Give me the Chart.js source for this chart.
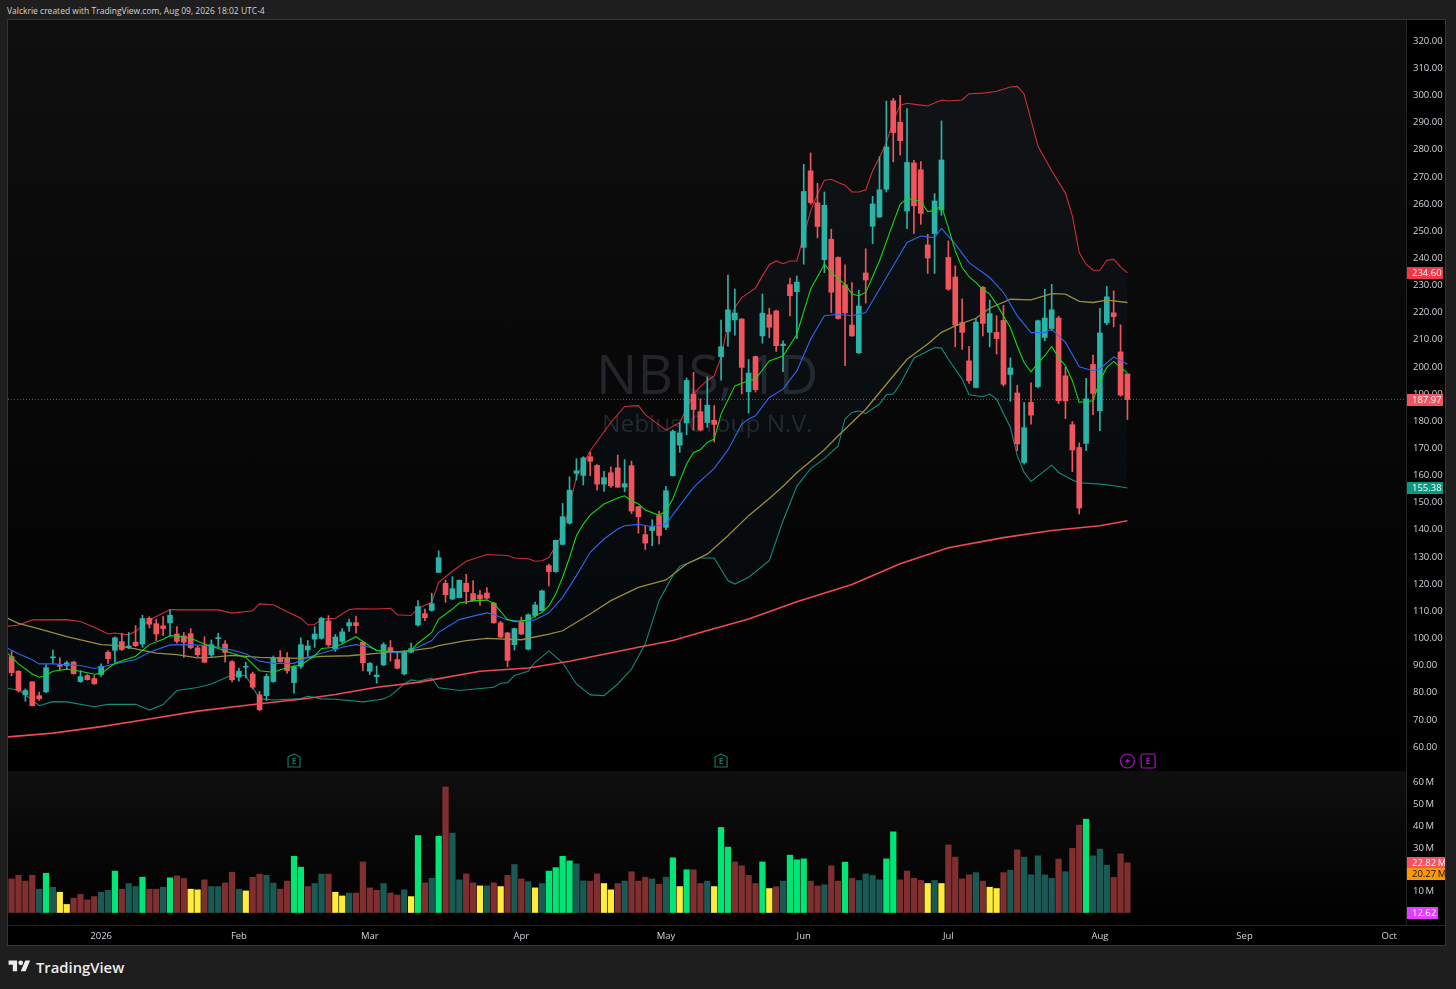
<!DOCTYPE html>
<html><head><meta charset="utf-8">
<script src="https://cdn.jsdelivr.net/npm/chart.js@4"></script>
<style>
html,body{margin:0;padding:0;background:#1e1e1e;width:1456px;height:989px;overflow:hidden;font-family:"Open Sans",sans-serif}
#head{position:absolute;left:7px;top:4px;font-size:8.5px;line-height:14px;color:#d4d4d4;white-space:nowrap}
#frame{position:absolute;left:7px;top:19px;width:1437px;height:925px;border:1px solid #363636;background:#000}
#pMain{position:absolute;left:8px;top:20px;width:1398px;height:751px;background:linear-gradient(#0f0f0f,#000)}
#pVol{position:absolute;left:8px;top:771px;width:1398px;height:154px;background:linear-gradient(#0f0f0f,#000)}
canvas{position:absolute;display:block}
#logo{position:absolute;left:8px;top:958px;display:flex;align-items:center;color:#ececec;font-size:14.8px;font-weight:600;line-height:16px}
#logo svg{width:23px;height:17px;margin-right:5px}
</style></head><body>
<div id="head">Valckrie created with TradingView.com, Aug 09, 2026 18:02 UTC-4</div>
<div id="frame"></div><div id="pMain"></div><div id="pVol"></div>
<canvas id="c1" width="1437" height="751" style="left:8px;top:20px;width:1437px;height:751px"></canvas>
<canvas id="c2" width="1437" height="174" style="left:8px;top:771px;width:1437px;height:174px"></canvas>
<div id="logo"><svg viewBox="0 0 36 28"><path fill="#ececec" d="M14 22H7V11H0V4h14v18zM28 22h-8l7.5-18h8L28 22z"/><circle fill="#ececec" cx="20" cy="8" r="4"/></svg><span>TradingView</span></div>
<script>
const opens=[93.3,87.9,79.2,84.0,78.9,80.3,92.8,90.1,90.0,91.3,
84.1,86.3,85.2,86.7,94.9,95.6,98.8,96.5,98.6,97.9,
107.4,105.4,104.6,105.7,101.6,100.9,101.7,96.5,97.5,93.9,
99.9,97.9,91.4,85.7,89.4,86.9,79.2,78.9,84.1,93.0,
92.8,83.7,89.7,95.7,99.7,100.0,106.4,96.0,98.9,104.6,
105.8,98.6,87.9,85.9,90.2,96.6,92.2,86.9,94.9,104.9,
109.1,110.3,124.3,120.3,114.5,115.0,120.3,116.5,116.0,116.7,
113.0,105.7,102.0,97.7,105.9,96.0,108.4,110.2,126.8,124.6,
134.6,142.4,160.8,160.0,166.9,163.7,156.8,161.0,162.8,155.7,
163.6,148.5,138.2,139.7,145.2,140.9,159.9,171.2,179.3,190.0,
183.5,179.5,180.3,203.7,213.0,217.3,217.6,190.8,203.8,211.4,
219.2,220.6,207.8,230.3,227.7,244.0,272.2,260.4,239.5,247.0,
240.3,230.2,215.4,205.2,234.6,251.8,255.2,265.4,298.0,290.1,
257.4,275.1,272.6,244.9,249.1,257.8,240.3,233.1,216.3,202.2,
192.4,229.3,212.7,212.7,217.1,197.2,190.4,164.8,186.9,192.7,
210.8,214.1,218.0,196.7,178.7,170.3,171.8,200.9,183.8,216.2,
219.9,205.5,197.4];
const highs=[95.2,88.1,81.4,84.0,80.2,90.3,95.7,92.8,91.6,91.6,
88.1,86.7,86.3,90.6,95.5,100.6,101.9,102.2,104.7,108.5,
108.0,107.1,108.0,110.5,104.3,102.2,103.6,97.2,100.6,99.4,
101.9,99.2,91.8,89.1,91.2,87.6,80.5,86.9,93.5,95.5,
94.8,90.0,100.2,99.2,104.3,107.8,108.4,101.4,103.6,107.1,
108.2,98.8,91.1,89.8,98.4,99.2,94.9,95.5,98.3,113.9,
110.8,116.6,132.2,121.5,122.7,121.5,123.6,121.3,117.6,118.7,
113.3,106.3,102.2,103.8,107.8,109.0,113.4,117.8,127.4,136.2,
149.7,159.5,166.2,166.9,168.5,164.0,161.5,163.2,167.5,165.8,
165.3,148.6,141.4,143.7,146.8,156.0,176.7,179.5,195.9,198.0,
188.2,196.3,185.7,217.2,233.8,228.6,217.8,202.7,204.0,226.8,
221.6,220.9,209.6,232.7,233.5,274.6,278.8,267.6,264.4,250.7,
240.5,237.6,231.0,228.2,243.5,262.8,277.4,297.9,298.9,300.0,
295.1,276.1,275.6,248.8,263.8,290.6,246.4,237.2,225.1,207.6,
217.9,229.6,224.6,218.8,222.6,203.3,193.2,186.8,194.1,217.2,
228.6,230.4,218.7,199.8,179.9,172.0,195.8,204.3,221.6,229.6,
228.0,215.5,197.4];
const lows=[86.2,80.2,76.8,75.1,77.1,80.0,90.8,88.4,88.7,86.8,
83.8,84.6,83.0,86.0,90.8,91.1,95.5,96.2,97.0,96.7,
103.8,99.2,101.0,101.0,98.2,93.0,96.2,93.3,91.1,93.3,
96.5,91.2,84.0,84.2,85.4,81.4,73.4,77.1,83.8,91.2,
87.1,79.8,88.9,93.3,96.7,99.7,97.0,95.2,98.4,102.6,
101.9,88.1,86.7,83.5,90.0,91.6,88.7,86.5,94.6,104.5,
106.5,110.0,124.2,113.3,114.3,114.9,112.7,113.7,112.2,114.4,
105.6,100.3,89.6,95.7,101.4,95.7,107.8,110.0,119.3,124.3,
134.5,142.1,158.3,156.5,159.9,154.6,154.1,155.6,155.6,154.0,
146.0,138.7,132.7,134.1,134.8,140.0,159.8,168.5,175.0,176.7,
176.5,177.7,172.4,195.1,207.6,211.7,190.0,183.0,190.7,208.7,
210.8,205.7,198.2,218.8,210.4,237.8,259.9,247.5,234.7,220.0,
217.6,200.4,211.2,204.9,223.5,245.4,255.0,264.4,275.5,278.0,
250.9,249.1,252.5,234.4,234.4,255.8,228.2,207.4,206.4,193.9,
192.2,211.4,207.4,204.7,192.9,187.3,169.1,164.2,178.9,192.2,
209.6,213.3,186.5,180.9,161.4,145.8,169.1,182.4,176.5,215.5,
214.7,189.2,180.6];
const closes=[87.4,80.8,80.8,75.2,77.8,89.2,93.2,89.7,91.0,87.0,
85.9,84.8,83.3,89.7,92.5,100.2,95.9,97.2,97.3,107.3,
105.2,101.6,103.6,108.5,98.9,98.6,96.6,94.0,91.2,97.7,
100.3,94.8,84.8,87.9,89.7,82.0,73.7,86.0,92.8,91.4,
88.1,89.6,97.7,97.2,101.6,107.4,97.6,100.5,102.4,105.8,
104.7,91.0,90.8,86.5,97.7,95.0,89.0,94.9,96.2,111.7,
107.6,112.8,129.7,116.1,118.3,121.4,117.2,113.9,114.5,114.8,
105.7,100.5,91.9,103.6,101.6,108.7,112.3,117.5,124.6,136.1,
144.8,154.6,161.7,166.5,165.2,156.8,159.2,156.2,155.7,157.0,
146.9,144.8,135.1,141.3,137.9,154.4,176.2,175.7,195.0,184.3,
176.8,185.9,178.8,207.4,221.0,219.8,199.8,197.7,191.6,219.8,
214.6,207.8,208.4,226.2,231.2,264.6,260.5,251.7,259.5,227.5,
217.8,219.9,211.4,222.4,232.0,260.0,265.2,281.0,286.3,283.3,
275.3,259.3,256.5,240.1,261.1,276.2,228.6,215.4,212.7,194.9,
216.5,216.0,219.6,210.4,193.6,199.6,171.6,177.6,182.2,217.0,
218.0,221.0,187.5,187.5,169.4,148.0,188.2,190.2,212.5,225.8,
218.5,189.6,187.97];
const volumes=[15.4,17.1,14.4,17.1,10.7,18.0,11.6,9.3,3.7,6.6,
8.3,5.8,7.3,9.3,10.2,19.0,10.7,13.3,11.9,16.2,
10.7,10.7,11.6,15.9,16.8,15.6,10.7,10.4,15.0,11.9,
11.9,13.6,18.5,10.7,9.9,16.2,17.6,17.1,13.5,10.7,
14.4,25.8,20.8,11.9,13.3,17.6,17.6,9.3,7.6,8.9,
8.9,23.2,11.3,10.2,13.3,8.9,8.0,10.4,7.3,35.3,
13.6,15.7,35.0,57.6,36.4,15.0,17.7,13.6,12.2,12.2,
13.6,11.9,17.0,22.0,15.4,14.1,11.3,13.3,19.0,20.6,
25.8,23.7,22.3,14.5,14.4,17.7,13.3,10.4,13.3,14.4,
18.7,14.4,16.2,15.4,13.0,16.2,25.1,11.9,19.6,19.6,
13.3,14.4,11.9,39.0,30.0,23.2,21.4,17.0,13.3,23.2,
11.0,11.8,14.4,26.3,24.2,24.6,14.4,12.1,12.7,21.4,
14.4,23.1,15.7,14.7,17.7,17.0,15.0,24.6,37.0,15.0,
19.0,15.7,14.7,13.3,14.7,13.3,31.0,25.4,15.4,17.3,
18.3,14.4,11.6,11.0,18.3,19.4,28.7,25.4,17.3,26.0,
17.3,15.7,24.5,18.7,29.4,40.1,42.8,26.0,29.1,21.7,
16.1,26.9,22.82];
const volumeKinds="rrrrtgtyyr"+"rrrttgrttg"+"rrtgrryyrt"+"trrtyrrttr"+"rggrttryyt"+"rrrrtrrtyg"+"rtgrttrryt"+"ryrtrtytgg"+"ggttrryyrt"+"rrrtrtgygr"+"rtyggrrrrg"+"yrtgggrrtr"+"rgrttttggr"+"rrrytyrrrr"+"tryyrtrttt"+"ttrtrrgttt"+"rrr";

const upperIdx=[-1,1,3,8,10,12,14,15,17,18,20,23,25,30,32,35,36,38,40,42,43,44,45,47,49,50,53,55,56,58,59,61,62,64,66,69,72,73,75,76,77,78,80,82,84,87,89,91,92,95,97,99,100,101,102,103,104,105,106,108,109,110,111,112,113,114,115,116,117,118,119,120,121,122,123,124,125,126,127,128,129,130,132,133,135,136,138,139,141,143,145,146,147,149,151,153,154,155,156,157,158,159,160,161,162];
const upperBand=[104.4,104.9,106.8,106.9,106.2,104.1,101.6,102.0,101.3,102.6,106.8,110.6,110.5,110.5,109.3,110.2,112.7,112.4,109.8,107.4,105.0,105.1,107.0,107.4,110.6,110.9,110.8,111.1,108.7,108.4,111.1,113.3,120.6,124.7,128.4,130.9,130.5,129.6,129.3,128.4,128.6,129.8,138.4,159.3,169.1,179.5,185.4,185.7,182.4,176.7,179.5,190,192.7,194.9,196.7,203.5,215.7,221.9,225.5,229,233.5,237.6,239,238,239,239,248.2,257.4,263.6,268.7,269.1,267.9,266.9,264.4,264.4,265.2,272.2,277,282.6,290.6,296.4,297.1,296.4,296.1,298.3,297.9,298.3,300.6,300.8,301.5,303.1,303.3,300.5,281.3,272.2,264,255.6,242.1,237.8,235.6,235.6,239.3,239.6,236.8,234.6];
const lowerIdx=[-1,1,3,4,6,8,12,14,18,20,22,24,27,29,32,34,35,36,38,42,43,45,47,51,53,54,55,57,58,59,61,62,65,70,71,72,73,75,76,78,80,82,84,86,88,90,92,94,96,97,100,102,104,105,107,110,112,114,116,118,120,121,122,123,124,126,127,128,129,131,134,135,136,138,139,141,142,143,145,146,147,148,151,152,154,155,158,160,162];
const lowerBand=[81.7,81.0,77.3,75.2,76.7,76.6,74.8,75.7,75.7,73.6,75.6,80.8,81.9,83.2,86.5,86.3,82.0,77.8,77.3,77.8,78.7,77.7,77.6,76.6,77.3,77.7,78.9,83.2,84.7,84.2,85.4,81.8,80.8,82.0,83.5,83.7,86.3,87.9,91.2,95.4,91.0,83.2,79.2,78.9,83.2,88.7,98.0,113.9,123.1,126.5,129.6,129.6,121.3,120,122.5,128.6,143.3,156,162.5,166.2,170.9,180.8,183.2,183.8,182.8,186.3,189.7,190,193.6,203.2,207.1,206.9,202.8,195.5,189.7,189,190,188.1,177.7,167.3,161.1,157.8,163.8,161.1,158.3,157.3,156.8,156.2,155.38];
const greenIdx=[-1,1,3,4,5,6,8,10,12,13,15,18,20,22,23,24,26,28,30,32,34,36,38,40,42,44,45,47,50,52,53,57,58,59,61,62,64,65,67,69,70,72,73,75,77,78,79,80,81,82,83,84,86,88,89,90,91,92,94,95,96,97,98,99,100,101,102,103,105,107,108,110,112,114,116,118,119,121,122,123,124,126,128,129,130,132,133,134,135,136,137,138,139,140,141,142,143,145,146,147,148,149,150,151,152,153,154,155,156,157,158,159,160,161,162];
const greenLine=[95.5,90.6,86.9,85.7,86.3,87.9,88.6,87.9,86.8,87.1,90.8,93.4,97.7,99.7,101,100.8,100,97.9,96.3,94.5,93.0,88.1,87.5,89.3,90.2,93.6,96.3,96.7,100.6,97.1,95.5,95.0,95.7,98.2,102.2,107.1,110.8,113,113.8,114.1,112.9,106.9,106.1,106.8,109.6,112,116.3,122.5,129.8,137.8,142.1,145.4,149.5,151.7,152.5,150.7,149.5,147.3,145.3,147,151.3,158,164.2,168.5,169.5,172.2,173.4,182.6,193,194.9,195.5,202.2,204,212,228.6,237.8,234.7,230.4,226.8,226.2,227.4,239,253.1,259.9,262.1,260.9,257.2,257.7,259.3,251.3,242.7,236.6,233.2,231,228.6,226.8,223.1,214.5,207.7,201.6,198.2,201.4,204.1,207.5,203.4,200.4,194.9,186.9,187.3,187.5,194.9,199.8,202,199.8,197.7];
const blueIdx=[-1,1,3,4,6,8,10,12,14,15,18,20,23,26,29,32,34,36,38,41,43,45,48,50,52,53,55,57,59,61,62,65,67,69,70,72,74,76,78,80,82,84,86,88,89,91,93,95,97,99,102,104,106,107,108,110,112,114,116,118,120,122,124,127,130,132,134,135,137,139,142,144,146,148,150,151,153,155,157,158,160,162];
const blueLine=[96.9,94.3,92.1,90.6,90.6,90.3,90,88.9,90,90.6,92.2,94.9,97.6,97.7,97.2,95.7,94.3,91.6,90.8,90.8,93,94.5,96.7,97.7,96.7,95.6,94.9,94.9,96.7,99.2,102.2,106.9,108.2,109.4,108.8,106.8,106.2,106.8,109.4,115.1,123.1,131.7,136.6,140.3,141.5,142,141.1,142.1,148.9,155.6,162.6,169.4,178.9,180.8,182,188.7,191.8,198.5,210.2,218.8,219.4,218.8,220,232.9,245.8,248.2,247.6,251,245.2,238.4,232.9,227.4,218.8,212.6,212.6,213.9,209,200,198.6,199.2,203.7,201];
const tanIdx=[-1,1,4,8,13,15,18,21,24,27,29,32,36,40,42,45,49,53,58,61,62,66,69,74,78,80,84,87,91,95,98,101,104,107,110,112,114,118,120,124,127,130,133,135,137,140,142,145,148,151,153,155,157,159,162];
const tanLine=[107.9,105.5,103.5,100.6,97.7,97.4,96.1,94.6,94,92.8,93,93.7,93,92.7,92.6,93.4,93.6,94.5,95.5,96.5,97.3,99.2,100,99.5,101.6,102.8,109,113.9,118.8,121.5,127.4,131,137.8,145.2,151.5,156,161,169.5,174.6,184.4,193.6,202.8,208.4,212.7,215.1,217.9,221.6,224.9,224.7,227,226.8,224.1,223.7,224.6,223.7];
const slowIdx=[-1,6,13,20,27,36,42,47,53,59,68,75,81,91,96,100,107,114,122,129,136,144,151,158,162];
const slowLine=[63.6,65.1,67.5,70.3,73.2,75.9,77.6,79.3,82,83.8,87.9,89.1,91.6,96.7,99.2,102.2,107.1,113.5,119.8,127.5,133.4,137.1,139.7,141.5,143.3];

const monthIdx=[13,33,52,74,95,115,136,158,179,200];
const monthNames=["2026","Feb","Mar","Apr","May","Jun","Jul","Aug","Sep","Oct"];
const priceTicks=[60,70,80,90,100,110,120,130,140,150,160,170,180,190,200,210,220,230,240,250,260,270,280,290,300,310,320];
const volumeTicks=[10,20,30,40,50,60];
const lastClose=187.97;
const earningsBars=[41,103,165];
const dividendBars=[162];
const watermark=["NBIS, 1D","Nebius Group N.V."];
const priceTags=[["234.60",234.6,"#f23645","#fff"],["187.97",lastClose,"#f7525f","#fff"],["155.38",155.38,"#089981","#fff"]];
const volumeTags=[["22.82\u2009M",22.82,"#f7525f","#fff",39],["20.27\u2009M",17.5,"#ff9800","#111",39],["12.62",0,"#e040fb","#fff",31]];

const XMIN=-0.523,XMAX=202.44;
const FONT='"Open Sans",sans-serif';
const TEAL="#2ab3a6",RED="#f0545c";
const ohlcColor=closes.map((c,i)=>c>=opens[i]?TEAL:RED);
const volColor={r:"#7f2f2f",t:"#1a5a54",g:"#00e676",y:"#ffeb3b"};
const pair=(xs,ys)=>xs.map((x,i)=>({x,y:ys[i]}));
const line=(label,xs,ys,color,w,extra)=>Object.assign({type:"line",label,data:pair(xs,ys),borderColor:color,borderWidth:w,pointRadius:0,tension:0,order:1},extra||{});
function fixWidth(s){s.width=39;s.paddingTop=0;s.paddingBottom=0;}

const tagPlugin={id:"tags",afterDraw(chart){
  const tags=chart.options.plugins.tags;if(!tags)return;
  const ctx=chart.ctx,y=chart.scales.y,x0=chart.chartArea.right+1;
  ctx.save();ctx.font='9.5px '+FONT;ctx.textBaseline="middle";ctx.textAlign="left";
  tags.forEach(t=>{const py=Math.round(y.getPixelForValue(t[1]));
    ctx.fillStyle=t[2];ctx.fillRect(x0,py-6,t[4]||36,12);
    ctx.fillStyle=t[3];ctx.fillText(t[0],x0+5,py+0.5);});
  ctx.restore();
}};
const markPlugin={id:"marks",
 beforeDatasetsDraw(chart){
  if(chart.canvas.id!=="c1")return;
  const ctx=chart.ctx,cx=chart.scales.x.getPixelForValue(101);
  ctx.save();ctx.textAlign="center";ctx.textBaseline="middle";ctx.fillStyle="#22252a";
  ctx.font='55px '+FONT;ctx.fillText(watermark[0],cx,358);
  ctx.font='24.4px '+FONT;ctx.fillText(watermark[1],cx,405);
  ctx.restore();
 },
 afterDatasetsDraw(chart){
  if(chart.canvas.id!=="c1")return;
  const ctx=chart.ctx,xs=chart.scales.x,yy=741;
  ctx.save();ctx.lineWidth=1.2;ctx.textAlign="center";ctx.textBaseline="middle";ctx.font='bold 8px '+FONT;
  earningsBars.forEach((b,i)=>{const c=i<2?"#0f7a66":"#a913c4";const x=xs.getPixelForValue(b);
    ctx.strokeStyle=c;ctx.fillStyle=c;
    ctx.beginPath();
    if(i<2){ctx.moveTo(x,yy-7);ctx.lineTo(x+6,yy-4);ctx.lineTo(x+6,yy+6);ctx.lineTo(x-6,yy+6);ctx.lineTo(x-6,yy-4);ctx.closePath();}
    else{ctx.roundRect(x-7,yy-7,14,14,1.5);}
    ctx.stroke();ctx.fillText("E",x,yy+0.5);});
  dividendBars.forEach(b=>{const x=xs.getPixelForValue(b);ctx.strokeStyle="#a913c4";ctx.fillStyle="#a913c4";
    ctx.beginPath();ctx.arc(x,yy,7,0,Math.PI*2);ctx.stroke();
    ctx.beginPath();ctx.moveTo(x+2,yy-4.5);ctx.lineTo(x-2.5,yy+1);ctx.lineTo(x-0.3,yy+1);ctx.lineTo(x-2,yy+4.5);ctx.lineTo(x+2.5,yy-1);ctx.lineTo(x+0.3,yy-1);ctx.closePath();ctx.fill();});
  ctx.restore();
 }};
Chart.register(tagPlugin,markPlugin);

const baseX=(display)=>({type:"linear",min:XMIN,max:XMAX,display,offset:false,grid:{display:false,drawTicks:false,tickLength:0},border:{display:false},
  afterBuildTicks(s){s.ticks=monthIdx.map(v=>({value:v}));},
  afterFit(s){s.paddingLeft=0;s.paddingRight=0;if(display)s.height=20;},
  ticks:{autoSkip:false,maxRotation:0,color:"#d1d4dc",padding:5.5,font:{size:9.5,family:FONT},callback:(v)=>monthNames[monthIdx.indexOf(v)]??""}});

new Chart(document.getElementById("c1"),{
 data:{datasets:[
  {type:"line",label:"Close",data:[{x:XMIN,y:lastClose},{x:XMAX,y:lastClose}],borderColor:"rgba(240,120,120,.55)",borderWidth:1,borderDash:[1,2],pointRadius:0,order:0},
  line("MA 10",greenIdx,greenLine,"#0fdc14",1.1),
  line("MA 20",blueIdx,blueLine,"#2d68ee",1.1),
  line("MA 50",tanIdx,tanLine,"#9a8e3a",1.3),
  line("MA 200",slowIdx,slowLine,"#ef4a53",1.6),
  {type:"bar",label:"Body",data:closes.map((c,i)=>({x:i,y:[opens[i],c]})),backgroundColor:ohlcColor,barThickness:5,grouped:false,order:3},
  {type:"bar",label:"Wick",data:closes.map((c,i)=>({x:i,y:[lows[i],highs[i]]})),backgroundColor:ohlcColor,barThickness:1,grouped:false,order:4},
  line("BB lower",lowerIdx,lowerBand,"#168a7b",1.1,{order:5}),
  line("BB upper",upperIdx,upperBand,"#cc2f3c",1.1,{order:6,fill:{target:"-1"},backgroundColor:"rgba(50,110,150,.065)"})
 ]},
 options:{responsive:false,animation:false,devicePixelRatio:1,
  layout:{padding:0},
  plugins:{legend:{display:false},tooltip:{enabled:false},tags:priceTags.map(t=>[t[0],t[1],t[2],t[3],36])},
  scales:{x:baseX(false),
   y:{type:"linear",position:"right",min:51.15,max:327.75,grid:{display:false,drawTicks:false,tickLength:0},border:{color:"#23252d"},afterFit:fixWidth,
    afterBuildTicks(s){s.ticks=priceTicks.map(v=>({value:v}));},
    ticks:{autoSkip:false,color:"#d1d4dc",padding:7,font:{size:9.5,family:FONT},callback:v=>Number(v).toFixed(2)}}
  }}
});

new Chart(document.getElementById("c2"),{
 data:{datasets:[
  {type:"bar",label:"Volume",data:volumes.map((v,i)=>({x:i,y:v})),backgroundColor:volumeKinds.split("").map(k=>volColor[k]),barThickness:5.6}
 ]},
 options:{responsive:false,animation:false,devicePixelRatio:1,
  layout:{padding:0},
  plugins:{legend:{display:false},tooltip:{enabled:false},tags:volumeTags},
  scales:{x:baseX(true),
   y:{type:"linear",position:"right",min:-5.73,max:64.9,grid:{display:false,drawTicks:false,tickLength:0},border:{color:"#23252d"},afterFit:fixWidth,
    afterBuildTicks(s){s.ticks=volumeTicks.map(v=>({value:v}));},
    ticks:{autoSkip:false,color:"#d1d4dc",padding:7,labelOffset:1,font:{size:9.5,family:FONT},callback:v=>v+"\u2009M"}}
  }}
});
</script>
<div style="position:absolute;left:8px;top:925px;width:1437px;height:1px;background:#23252d"></div>
</body></html>
